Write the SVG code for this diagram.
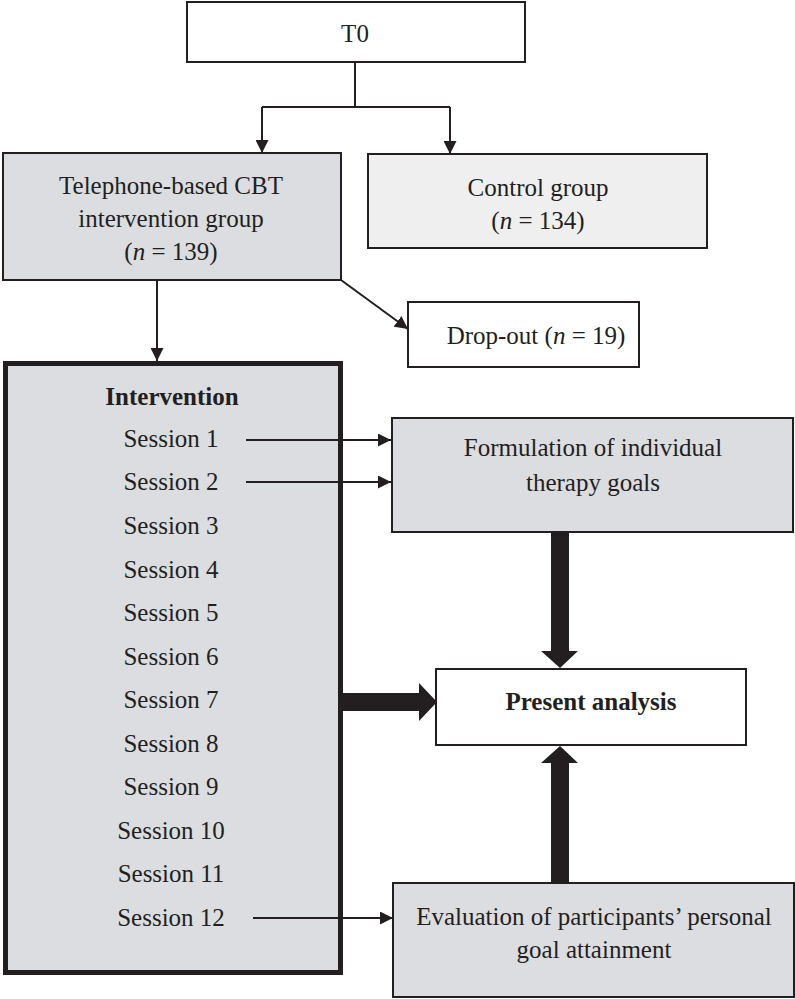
<svg xmlns="http://www.w3.org/2000/svg" width="795" height="999" viewBox="0 0 795 999">
<defs>
<style>
.box{stroke:#231f20;stroke-width:2}
.w{fill:#ffffff}
.g{fill:#dcdde0}
.lg{fill:#efeff0}
text{font-family:"Liberation Serif","Times New Roman",serif;font-size:25px;fill:#231f20;text-anchor:middle}
.b{font-weight:bold}
.ln{fill:none;stroke:#231f20;stroke-width:2}
.thick{fill:#231f20}
</style>
<marker id="ah" viewBox="0 0 13 13" refX="13" refY="6.5" markerWidth="13" markerHeight="13" markerUnits="userSpaceOnUse" orient="auto">
<path d="M0,0 L13,6.5 L0,13 Z" fill="#231f20"/>
</marker>
</defs>
<rect width="795" height="999" fill="#ffffff"/>
<g id="t0">
<rect class="box w" x="187" y="2" width="338" height="60"/>
<text x="355" y="42">T0</text>
</g>
<g id="telephone">
<rect class="box g" x="3" y="153" width="338" height="127"/>
<text x="171" y="194">Telephone-based CBT</text>
<text x="171" y="227">intervention group</text>
<text x="171" y="260">(<tspan font-style="italic">n</tspan> = 139)</text>
</g>
<g id="control">
<rect class="box lg" x="368" y="154" width="339" height="94"/>
<text x="538" y="196">Control group</text>
<text x="538" y="229">(<tspan font-style="italic">n</tspan> = 134)</text>
</g>
<g id="dropout">
<rect class="box w" x="408" y="302" width="231" height="65"/>
<text x="536" y="344">Drop-out (<tspan font-style="italic">n</tspan> = 19)</text>
</g>
<g id="intervention">
<rect x="5.5" y="363.5" width="335" height="609" fill="#dcdde0" stroke="#231f20" stroke-width="5"/>
<text class="b" x="172" y="405">Intervention</text>
<text x="171" y="447">Session 1</text>
<text x="171" y="490">Session 2</text>
<text x="171" y="534">Session 3</text>
<text x="171" y="578">Session 4</text>
<text x="171" y="621">Session 5</text>
<text x="171" y="665">Session 6</text>
<text x="171" y="708">Session 7</text>
<text x="171" y="752">Session 8</text>
<text x="171" y="795">Session 9</text>
<text x="171" y="839">Session 10</text>
<text x="171" y="882">Session 11</text>
<text x="171" y="926">Session 12</text>
</g>
<g id="formulation">
<rect class="box g" x="392" y="418" width="401" height="114"/>
<text x="593" y="456">Formulation of individual</text>
<text x="593" y="491">therapy goals</text>
</g>
<g id="present">
<rect class="box w" x="436" y="669" width="310" height="76"/>
<text class="b" x="591" y="710">Present analysis</text>
</g>
<g id="evaluation">
<rect class="box g" x="393" y="883" width="401" height="114"/>
<text x="594" y="925">Evaluation of participants’ personal</text>
<text x="594" y="958">goal attainment</text>
</g>
<g id="connectors">
<path class="ln" d="M355 62 V107 M262 107 H450"/>
<path class="ln" d="M262 107 V153" marker-end="url(#ah)"/>
<path class="ln" d="M450 107 V154" marker-end="url(#ah)"/>
<path class="ln" d="M157 280 V361" marker-end="url(#ah)"/>
<path class="ln" d="M341 280 L408 329" marker-end="url(#ah)"/>
<path class="ln" d="M246 440 H391" marker-end="url(#ah)"/>
<path class="ln" d="M246 482 H391" marker-end="url(#ah)"/>
<path class="ln" d="M253 918 H393" marker-end="url(#ah)"/>
<polygon class="thick" points="551,533 569,533 569,651 578,651 560,668 541,651 551,651"/>
<polygon class="thick" points="343,693 419,693 419,683 437,702 419,721 419,711 343,711"/>
<polygon class="thick" points="551,882 569,882 569,763 578,763 560,746 541,763 551,763"/>
</g>
</svg>
